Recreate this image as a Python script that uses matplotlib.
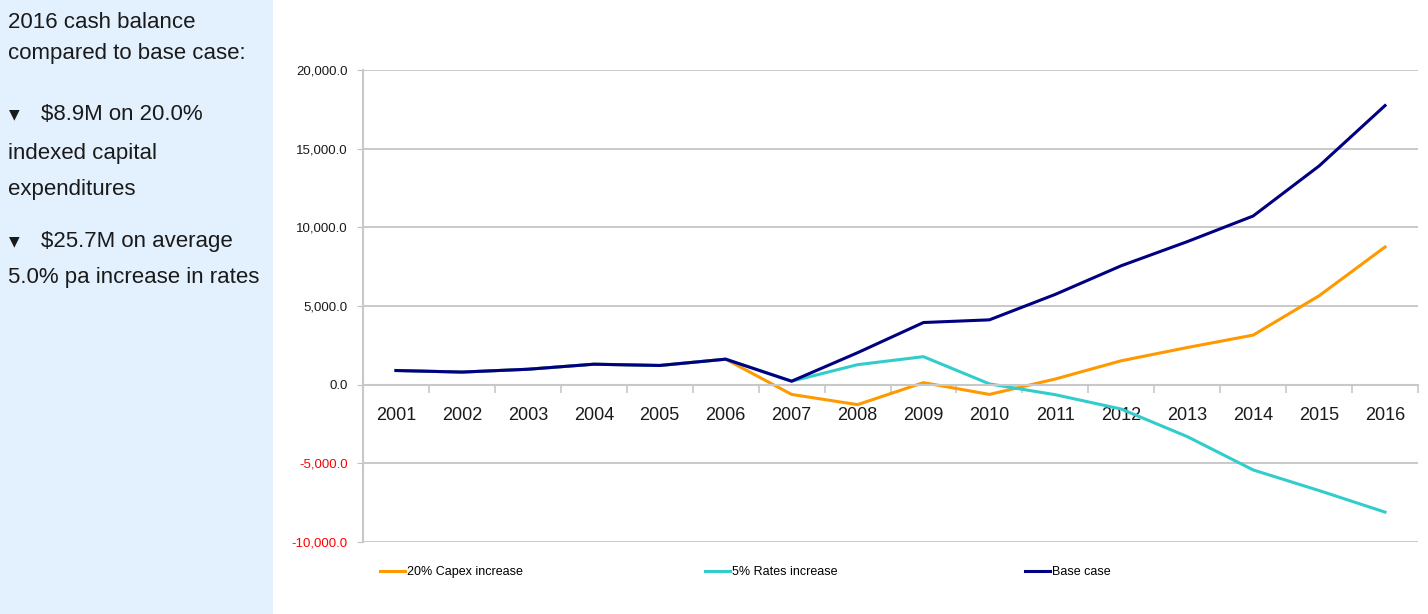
import matplotlib
matplotlib.use("Agg")
import matplotlib.pyplot as plt
from matplotlib.patches import Rectangle
from matplotlib.ticker import FuncFormatter, FixedLocator

years = [str(y) for y in range(2001, 2017)]
capex = [900, 800, 980, 1300, 1220, 1620, -620, -1270, 130, -620, 360, 1520, 2360, 3150, 5650, 8750]
rates = [900, 800, 980, 1300, 1220, 1620, 220, 1270, 1780, 50, -640, -1550, -3300, -5420, -6730, -8100]
base = [900, 800, 980, 1300, 1220, 1620, 220, 2030, 3950, 4120, 5740, 7560, 9090, 10720, 13900, 17740]
series_names = ["20% Capex increase", "5% Rates increase", "Base case"]
series_colors = ["#FF9900", "#33CCCC", "#000080"]
yticks = list(range(-10000, 20001, 5000))

plt.rcParams["font.family"] = ["Liberation Sans", "DejaVu Sans"]

fig = plt.figure(figsize=(14.28, 6.14), dpi=100)
W, H = 1428, 614

# left comment panel
fig.patches.append(Rectangle((0, 0), 273 / W, 1, transform=fig.transFigure,
                             facecolor="#E3F0FD", edgecolor="none", zorder=0))

def ftext(x, y, s):
    fig.text(x / W, 1 - y / H, s, va="center", ha="left", color="#1a1a1a", fontsize=16)

def bullet(x, y):
    fig.text(x / W, 1 - y / H, "\u25BC", fontsize=10, ha="left", va="center",
             family=["DejaVu Sans"], color="#1a1a1a")

ftext(8, 22, "2016 cash balance")
ftext(8, 54, "compared to base case:")
bullet(9, 114)
ftext(41, 114, "$8.9M on 20.0%")
ftext(8, 153, "indexed capital")
ftext(8, 189, "expenditures")
bullet(9, 241)
ftext(41, 242, "$25.7M on average")
ftext(8, 278, "5.0% pa increase in rates")

ax = fig.add_axes([363 / W, 1 - 542 / H, (1418 - 363) / W, (542 - 70) / H])
x = list(range(len(years)))
lines = []
for vals, name, col in zip([capex, rates, base], series_names, series_colors):
    lines += ax.plot(x, vals, color=col, lw=2.2, label=name)

ax.set_xlim(-0.5, len(years) - 0.5)
ax.set_ylim(-10000, 20000)
ax.set_yticks(yticks)
ax.yaxis.set_major_formatter(FuncFormatter(lambda v, p: f"{v:,.1f}"))
ax.grid(axis="y", color="#C0C0C0", lw=1.2)
ax.set_axisbelow(True)
ax.tick_params(axis="y", length=4, color="#C0C0C0", pad=7, labelsize=9.5)
for lbl, v in zip(ax.get_yticklabels(), yticks):
    lbl.set_color("#FF0000" if v < 0 else "#1a1a1a")

ax.spines["top"].set_visible(False)
ax.spines["right"].set_visible(False)
ax.spines["left"].set_color("#C8C8C8")
ax.spines["left"].set_linewidth(1.5)
ax.spines["bottom"].set_position(("data", 0))
ax.spines["bottom"].set_color("#C8C8C8")
ax.spines["bottom"].set_linewidth(1.5)

ax.set_xticks(x)
ax.set_xticklabels(years)
ax.xaxis.set_minor_locator(FixedLocator([i + 0.5 for i in range(-1, len(years))]))
ax.tick_params(axis="x", which="major", length=0, pad=16, labelsize=13, labelcolor="#1a1a1a")
ax.tick_params(axis="x", which="minor", length=6, width=1.2, color="#C8C8C8")

# legend entries spread along the bottom
for ln, xpos in zip(lines, [380, 705, 1025]):
    fig.legend(handles=[ln], loc="center left", bbox_to_anchor=(xpos / W, 1 - 572 / H),
               frameon=False, handlelength=2.0, handletextpad=0.15, borderpad=0,
               borderaxespad=0, fontsize=9)

fig.savefig("out.png", dpi=100)
